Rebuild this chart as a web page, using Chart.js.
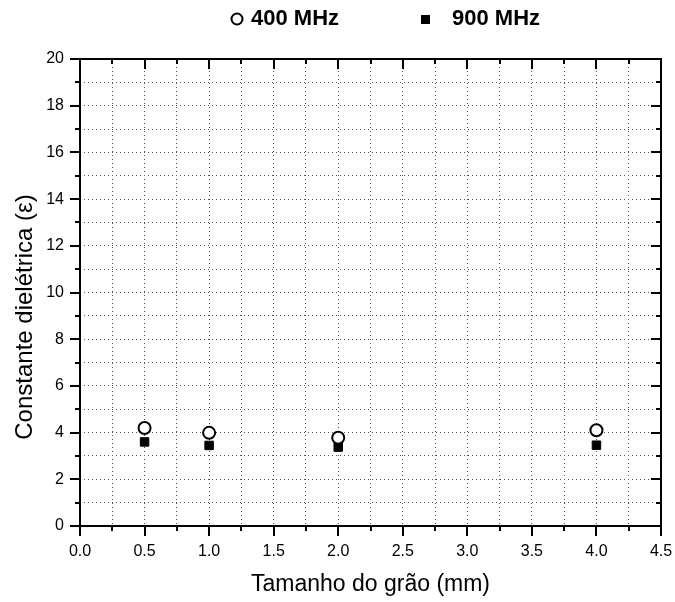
<!DOCTYPE html>
<html lang="pt">
<head>
<meta charset="UTF-8">
<title>Constante dielétrica</title>
<script src="https://cdn.jsdelivr.net/npm/chart.js"></script>
<style>
  html, body { margin: 0; padding: 0; background: #fff; }
  #wrap { width: 675px; height: 602px; }
</style>
</head>
<body>
<div id="wrap"><canvas id="myChart" width="675" height="602"></canvas></div>
<script>
// grain size (mm)
const tamanhos = [0.5, 1.0, 2.0, 4.0];
// dielectric constant values
const eps400 = [4.2, 3.99, 3.78, 4.1];
const eps900 = [3.6, 3.45, 3.38, 3.46];
const serieNames = ['400 MHz', '900 MHz'];
const yTitle = 'Constante dielétrica (ε)';

const fontName = "'Liberation Sans', Arial, sans-serif";

function pts(xs, ys) {
    return xs.map((x, i) => ({ x: x, y: ys[i] }));
}

function isMajorX(v) {
    return Math.abs(v / 0.5 - Math.round(v / 0.5)) < 1e-6;
}

// frame + tick marks (outside on left/bottom, inside on top/right)
const frameTicks = {
    id: 'frameTicks',
    afterDraw(chart) {
        const ctx = chart.ctx;
        const a = chart.chartArea;
        const xs = chart.scales.x, ys = chart.scales.y;
        ctx.save();
        ctx.strokeStyle = '#000';
        ctx.lineWidth = 2;
        ctx.strokeRect(a.left, a.top, a.right - a.left, a.bottom - a.top);
        ctx.beginPath();
        for (let i = 0; i <= 18; i++) {
            const v = i * 0.25;
            const px = Math.round(xs.getPixelForValue(v));
            const len = isMajorX(v) ? 10 : 5;
            ctx.moveTo(px, a.bottom); ctx.lineTo(px, a.bottom + len);
            ctx.moveTo(px, a.top); ctx.lineTo(px, a.top + len);
        }
        for (let v = 0; v <= 20; v += 1) {
            const py = Math.round(ys.getPixelForValue(v));
            const len = v % 2 === 0 ? 10 : 5;
            ctx.moveTo(a.left, py); ctx.lineTo(a.left - len, py);
            ctx.moveTo(a.right, py); ctx.lineTo(a.right - len, py);
        }
        ctx.stroke();

        // y axis title, sitting a bit below the middle as in the original
        ctx.fillStyle = '#000';
        ctx.font = '24px ' + fontName;
        ctx.textAlign = 'center';
        ctx.textBaseline = 'middle';
        ctx.translate(25, 317);
        ctx.rotate(-Math.PI / 2);
        ctx.fillText(yTitle, 0, 0);
        ctx.restore();
    }
};

// legend drawn at the top, like the original figure
const topLegend = {
    id: 'topLegend',
    afterDraw(chart) {
        const ctx = chart.ctx;
        ctx.save();
        ctx.fillStyle = '#000';
        ctx.strokeStyle = '#000';
        ctx.font = 'bold 22px ' + fontName;
        ctx.textBaseline = 'middle';
        ctx.textAlign = 'left';
        // open circle
        ctx.lineWidth = 2;
        ctx.beginPath();
        ctx.arc(237, 19, 5.5, 0, Math.PI * 2);
        ctx.stroke();
        ctx.fillText(serieNames[0], 251, 19);
        // filled square
        ctx.fillRect(421, 15, 9, 9);
        ctx.fillText(serieNames[1], 452, 19);
        ctx.restore();
    }
};

const ctx = document.getElementById('myChart').getContext('2d');
const myChart = new Chart(ctx, {
    type: 'scatter',
    data: {
        datasets: [{
            label: serieNames[0],
            data: pts(tamanhos, eps400),
            pointStyle: 'circle',
            pointRadius: 6,
            pointBorderWidth: 2,
            borderColor: '#000',
            backgroundColor: '#fff'
        }, {
            label: serieNames[1],
            data: pts(tamanhos, eps900),
            pointStyle: 'rect',
            pointRadius: 6,
            pointBorderWidth: 1,
            borderColor: '#000',
            backgroundColor: '#000'
        }]
    },
    options: {
        responsive: false,
        animation: false,
        layout: { padding: { left: 0, right: 0, top: 59, bottom: 0 } },
        plugins: {
            tooltip: { enabled: false },
            legend: { display: false }
        },
        scales: {
            x: {
                type: 'linear',
                min: 0, max: 4.5,
                border: { display: false, dash: [1, 3] },
                afterFit(s) { s.height = 76; s.paddingRight = 14; s.paddingLeft = 0; },
                ticks: {
                    stepSize: 0.25,
                    autoSkip: false,
                    maxRotation: 0,
                    padding: 16,
                    color: '#000',
                    font: { family: fontName, size: 16 },
                    callback: v => (isMajorX(v) ? v.toFixed(1) : '')
                },
                grid: {
                    drawTicks: false,
                    color: '#555',
                    lineWidth: 1
                },
                title: {
                    display: true,
                    text: 'Tamanho do grão (mm)',
                    color: '#000',
                    font: { family: fontName, size: 23 },
                    padding: { top: 4 }
                }
            },
            y: {
                type: 'linear',
                min: 0, max: 20,
                border: { display: false, dash: [1, 3] },
                afterFit(s) { s.width = 80; },
                ticks: {
                    stepSize: 1,
                    autoSkip: false,
                    padding: 16,
                    color: '#000',
                    font: { family: fontName, size: 16 },
                    callback: v => (v % 2 === 0 ? v : '')
                },
                grid: {
                    drawTicks: false,
                    color: '#555',
                    lineWidth: 1
                }
            }
        }
    },
    plugins: [frameTicks, topLegend]
});
</script>
</body>
</html>
